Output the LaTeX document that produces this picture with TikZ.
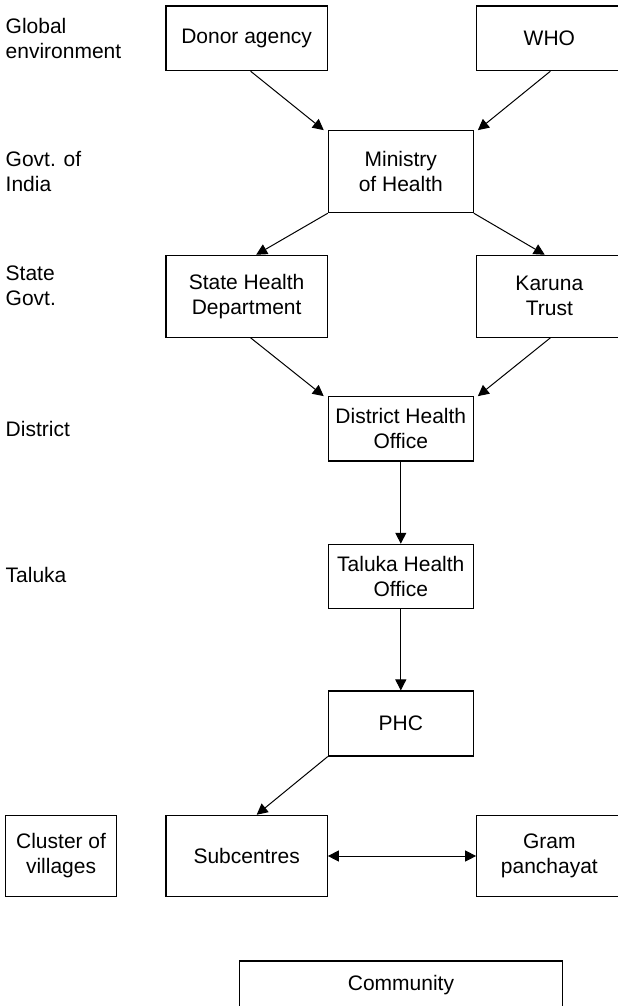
\documentclass[tikz,border=0pt]{standalone}
\usepackage{fontspec}
\setmainfont{Liberation Sans}
\usetikzlibrary{arrows.meta,calc}
\begin{document}
\begin{tikzpicture}[x=1pt,y=-1pt,
  boxnode/.style={draw=black,line width=1.1pt,inner sep=0pt,align=center,
    font=\fontsize{21}{25}\selectfont},
  lvl/.style={anchor=north west,inner sep=0pt,align=left,
    font=\fontsize{21}{25}\selectfont},
  conn/.style={line width=1pt,-{Triangle[length=11pt,width=11pt]}},
  biconn/.style={line width=1pt,{Triangle[length=11pt,width=11pt]}-{Triangle[length=11pt,width=11pt]}}]
\useasboundingbox (0,0) rectangle (618,1006);
% level labels
\node[lvl] (l1) at (5.5,18) {Global\\environment};
\node[lvl] (l2) at (5.5,151.5) {Govt. of\\India};
\node[lvl] (l3) at (5.5,265.5) {State\\Govt.};
\node[lvl] (l4) at (5.5,421) {District};
\node[lvl] (l5) at (5.5,567.5) {Taluka};
% boxes
\node[boxnode,minimum width=161.3pt,minimum height=64.7pt] (donor) at (246.65,38.35) {Donor agency};
\node[boxnode,minimum width=145.3pt,minimum height=64.7pt] (who) at (549.35,38.35) {WHO};
\node[boxnode,minimum width=145pt,minimum height=82pt] (min) at (400.8,171.7) {Ministry\\of Health};
\node[boxnode,minimum width=161.3pt,minimum height=82pt] (state) at (246.65,296.3) {State Health\\Department};
\node[boxnode,minimum width=145.3pt,minimum height=82pt] (karuna) at (549.35,296.3) {Karuna\\Trust};
\node[boxnode,minimum width=145pt,minimum height=64.3pt] (dist) at (400.8,428.85) {District Health\\Office};
\node[boxnode,minimum width=145pt,minimum height=64.4pt] (taluka) at (400.8,576.5) {Taluka Health\\Office};
\node[boxnode,minimum width=145pt,minimum height=65pt] (phc) at (400.8,723.5) {PHC};
\node[boxnode,minimum width=110.4pt,minimum height=81.4pt] (cluster) at (61.1,856) {Cluster of\\villages};
\node[boxnode,minimum width=161.3pt,minimum height=81.4pt] (sub) at (246.65,856) {Subcentres};
\node[boxnode,minimum width=145.3pt,minimum height=81.4pt] (gram) at (549.35,856) {Gram\\panchayat};
\node[boxnode,minimum width=322.9pt,minimum height=48pt] (comm) at (401,985) {Community};
% connectors
\draw[conn] ($(donor.south)+(4,0)$) -- ($(min.north west)+(-4,0)$);
\draw[conn] ($(who.south)+(1,0)$) -- ($(min.north east)+(4,0)$);
\draw[conn] (min.south west) -- ($(state.north)+(9.5,0)$);
\draw[conn] (min.south east) -- ($(karuna.north)+(-4.6,0)$);
\draw[conn] ($(state.south)+(4,0)$) -- ($(dist.north west)+(-4,0)$);
\draw[conn] ($(karuna.south)+(1,0)$) -- ($(dist.north east)+(4,0)$);
\draw[conn] (dist.south) -- (taluka.north);
\draw[conn] (taluka.south) -- (phc.north);
\draw[conn] (phc.south west) -- ($(sub.north)+(10,0)$);
\draw[biconn] (sub.east) -- (gram.west);
\end{tikzpicture}
\end{document}
